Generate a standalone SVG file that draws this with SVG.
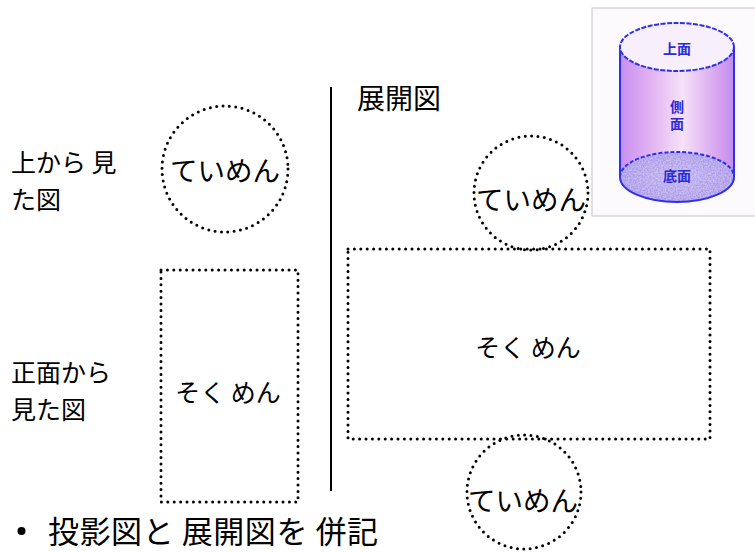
<svg xmlns="http://www.w3.org/2000/svg" width="755" height="553" viewBox="0 0 755 553">
  <style>
    .lbl { font-family: "Noto Sans CJK JP", "Noto Sans", sans-serif; fill: #000; }
    .dot { fill: none; stroke: #000; stroke-width: 3; stroke-linecap: round; stroke-dasharray: 0 6.4; }
    .cyl-txt { font-family: "Noto Sans CJK JP", sans-serif; font-size: 14px; fill: #2a2ad8; text-anchor: middle; font-weight: bold; }
    .cyl-edge { stroke: #2f2ff0; stroke-width: 2; }
  </style>
  <defs>
    <linearGradient id="bodyGrad" x1="0" y1="0" x2="1" y2="0">
      <stop offset="0" stop-color="#c78ff0"/>
      <stop offset="0.25" stop-color="#e0b0f2"/>
      <stop offset="0.55" stop-color="#f6e2f8"/>
      <stop offset="0.85" stop-color="#d8a6f0"/>
      <stop offset="1" stop-color="#c08cee"/>
    </linearGradient>
    <radialGradient id="baseGrad" cx="0.5" cy="0.5" r="0.6">
      <stop offset="0" stop-color="#b8a8ee"/>
      <stop offset="1" stop-color="#9c86e6"/>
    </radialGradient>
    <filter id="grain" x="0" y="0" width="1" height="1">
      <feTurbulence type="fractalNoise" baseFrequency="0.6" numOctaves="2" seed="3" result="n"/>
      <feColorMatrix in="n" type="matrix" values="0 0 0 0 1  0 0 0 0 1  0 0 0 0 1  0 0 0 0.55 -0.1" result="w"/>
      <feComposite in="w" in2="SourceGraphic" operator="in" result="wm"/>
      <feMerge><feMergeNode in="SourceGraphic"/><feMergeNode in="wm"/></feMerge>
    </filter>
  </defs>

  <rect width="755" height="553" fill="#fff"/>

  <!-- cylinder illustration -->
  <g id="cylinder">
    <rect x="592" y="8" width="164" height="208" fill="#fcfafd" stroke="#c4c4c4" stroke-width="1"/>
    <path d="M620 47 L620 177 A57 25 0 0 0 734 177 L734 47 Z" fill="url(#bodyGrad)"/>
    <ellipse cx="677" cy="177" rx="57" ry="25" fill="url(#baseGrad)" filter="url(#grain)"/>
    <path class="cyl-edge" fill="none" d="M620 177 A57 25 0 0 1 734 177" stroke-dasharray="4 2"/>
    <path class="cyl-edge" fill="none" d="M620 177 A57 25 0 0 0 734 177"/>
    <line class="cyl-edge" x1="620" y1="47" x2="620" y2="177"/>
    <line class="cyl-edge" x1="734" y1="47" x2="734" y2="177"/>
    <ellipse class="cyl-edge" cx="677" cy="47" rx="57" ry="24" fill="#f7effb" stroke-dasharray="5 1.5"/>
    <text class="cyl-txt" x="677" y="54">上面</text>
    <text class="cyl-txt" x="677" y="100" writing-mode="vertical-rl" letter-spacing="3" style="text-anchor:start">側面</text>
    <text class="cyl-txt" x="677" y="181">底面</text>
  </g>

  <!-- row captions -->
  <g id="caption-top" class="lbl" font-size="25">
    <text><tspan x="11" y="172">上から 見</tspan><tspan x="11" y="208.5">た図</tspan></text>
  </g>
  <g id="caption-front" class="lbl" font-size="25">
    <text><tspan x="11" y="382">正面から</tspan><tspan x="11" y="418.5">見た図</tspan></text>
  </g>
  <g id="caption-net" class="lbl" font-size="28">
    <text x="357" y="109">展開図</text>
  </g>

  <!-- divider -->
  <line x1="331" y1="87" x2="331" y2="491" stroke="#000" stroke-width="2"/>

  <!-- projection views -->
  <g id="top-view">
    <circle class="dot" cx="225" cy="169" r="63"/>
    <text class="lbl" font-size="27.5" x="225" y="181" text-anchor="middle">ていめん</text>
  </g>
  <g id="front-view">
    <rect class="dot" x="161" y="270" width="137" height="232"/>
    <text class="lbl" font-size="25" x="228" y="402" text-anchor="middle">そく めん</text>
  </g>

  <!-- net -->
  <g id="net-top">
    <circle class="dot" cx="531" cy="193" r="57"/>
    <text class="lbl" font-size="27.5" x="531" y="210" text-anchor="middle">ていめん</text>
  </g>
  <g id="net-side">
    <rect class="dot" x="348" y="249" width="362" height="190"/>
    <text class="lbl" font-size="25" x="528" y="357" text-anchor="middle">そく めん</text>
  </g>
  <g id="net-bottom">
    <circle class="dot" cx="524" cy="492" r="57"/>
    <text class="lbl" font-size="27.5" x="523" y="511" text-anchor="middle">ていめん</text>
  </g>

  <!-- bullet note -->
  <g id="note">
    <circle cx="21.5" cy="531" r="4" fill="#000"/>
    <text class="lbl" font-size="31" x="48" y="543" textLength="330" lengthAdjust="spacing">投影図と 展開図を 併記</text>
  </g>
</svg>
